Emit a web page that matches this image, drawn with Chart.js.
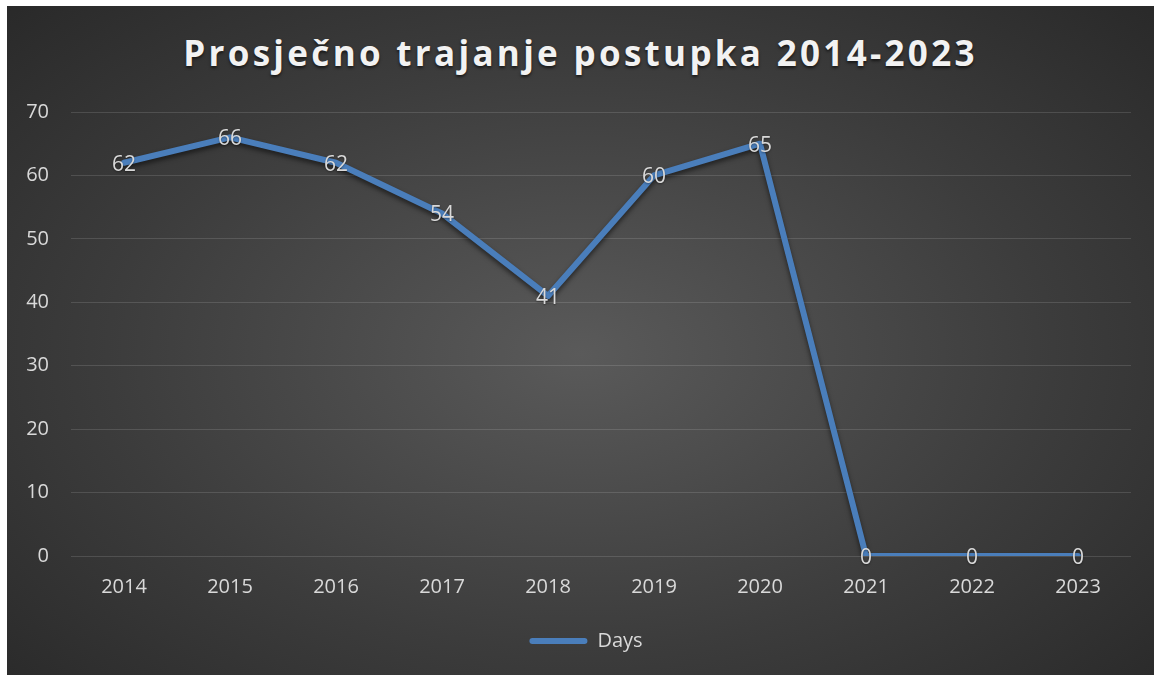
<!DOCTYPE html>
<html>
<head>
<meta charset="utf-8">
<script src="https://cdn.jsdelivr.net/npm/chart.js@4/dist/chart.umd.min.js"></script>
<style>
  html, body { margin: 0; padding: 0; background: #ffffff; }
  #wrap {
    position: absolute; left: 7px; top: 6px; width: 1147px; height: 669px;
    background: radial-gradient(ellipse 75% 80% at 50% 52%, #5a5a5a 0%, #3c3c3c 55%, #262626 100%);
  }
  #title {
    position: absolute; left: 0; top: 23px; width: 100%; text-align: center;
    font-family: "Open Sans", sans-serif; font-weight: 700; font-size: 35px;
    letter-spacing: 3.3px; color: #f2f2f2; line-height: 48px;
    text-shadow: 0 2px 3px rgba(0,0,0,0.6);
  }
  canvas { position: absolute; left: 0; top: 0; }
</style>
</head>
<body>
<div id="wrap">
  <div id="title">Prosječno trajanje postupka 2014-2023</div>
  <canvas id="c" width="1147" height="669"></canvas>
</div>
<script>
const categories = ['2014','2015','2016','2017','2018','2019','2020','2021','2022','2023'];
const days = [62, 66, 62, 54, 41, 60, 65, 0, 0, 0];
const yTicks = [0, 10, 20, 30, 40, 50, 60, 70];
const seriesName = 'Days';

const FONT = '"Open Sans", sans-serif';
const TXT = '#d9d9d9';
const BLUE = '#4a7ebb';

const lineShadow = {
  id: 'lineShadow',
  beforeDatasetDraw(chart) {
    const ctx = chart.ctx;
    ctx.save();
    ctx.shadowColor = 'rgba(0,0,0,0.55)';
    ctx.shadowBlur = 5;
    ctx.shadowOffsetY = 3;
  },
  afterDatasetDraw(chart) { chart.ctx.restore(); }
};

const dataLabels = {
  id: 'dataLabels',
  afterDatasetsDraw(chart) {
    const ctx = chart.ctx;
    const meta = chart.getDatasetMeta(0);
    ctx.save();
    ctx.font = '21px ' + FONT;
    ctx.fillStyle = TXT;
    ctx.textAlign = 'center';
    ctx.textBaseline = 'middle';
    ctx.shadowColor = 'rgba(0,0,0,0.4)';
    ctx.shadowBlur = 2;
    ctx.shadowOffsetY = 1;
    meta.data.forEach((pt, i) => {
      ctx.fillText(String(chart.data.datasets[0].data[i]), pt.x, pt.y + 2);
    });
    ctx.restore();
  }
};

const shiftLegend = {
  id: 'shiftLegend',
  afterLayout(chart) {
    if (chart.legend) { chart.legend.left += 17; chart.legend.right += 17; }
  }
};

new Chart(document.getElementById('c'), {
  type: 'line',
  data: {
    labels: categories,
    datasets: [{
      label: seriesName,
      data: days,
      borderColor: BLUE,
      backgroundColor: BLUE,
      borderWidth: 6,
      pointRadius: 0,
      pointHoverRadius: 0,
      tension: 0,
      borderCapStyle: 'round',
      borderJoinStyle: 'round'
    }]
  },
  options: {
    responsive: false,
    animation: false,
    events: [],
    layout: { padding: { left: 0, right: 23, top: 106, bottom: 14 } },
    scales: {
      x: {
        offset: true,
        grid: { display: false, drawTicks: false },
        border: { display: false },
        ticks: { color: TXT, font: { family: FONT, size: 20 }, padding: 19, maxRotation: 0 },
        afterFit(scale) { scale.height = 65; }
      },
      y: {
        min: 0, max: 70,
        afterBuildTicks(scale) { scale.ticks = yTicks.map(v => ({ value: v })); },
        grid: { color: 'rgba(255,255,255,0.13)', lineWidth: 1, drawTicks: false },
        border: { display: false },
        ticks: { color: TXT, font: { family: FONT, size: 20 }, padding: 22 },
        afterFit(scale) { scale.width = 64; }
      }
    },
    plugins: {
      title: { display: false },
      tooltip: { enabled: false },
      legend: {
        display: true,
        position: 'bottom',
        labels: {
          color: TXT,
          font: { family: FONT, size: 20 },
          boxWidth: 58,
          boxHeight: 6,
          useBorderRadius: true,
          borderRadius: 3,
          padding: 10,
          generateLabels(chart) {
            return [{ text: seriesName, fillStyle: BLUE, strokeStyle: BLUE, lineWidth: 0, fontColor: TXT, borderRadius: 3, datasetIndex: 0 }];
          }
        }
      }
    }
  },
  plugins: [lineShadow, dataLabels, shiftLegend]
});
</script>
</body>
</html>
